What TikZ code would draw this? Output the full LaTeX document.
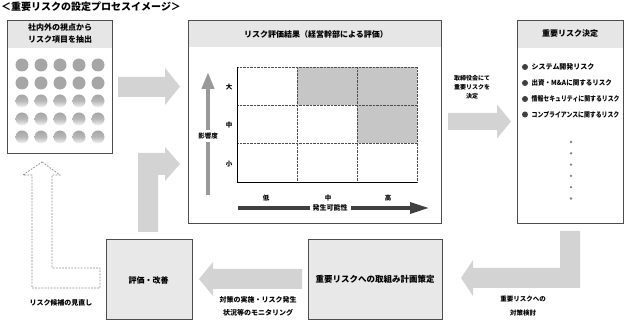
\documentclass[tikz,border=0pt]{standalone}
\usepackage{fontspec}
\setmainfont{Noto Sans CJK JP}
\usetikzlibrary{arrows.meta}
\definecolor{boxline}{HTML}{4D4D4D}
\definecolor{headfill}{HTML}{E6E6E6}
\definecolor{arrowfill}{HTML}{D3D3D3}
\definecolor{cellfill}{HTML}{C6C6C6}
\definecolor{dotfill}{HTML}{A6A6A6}
\definecolor{lowfill}{HTML}{E8E8E8}
\definecolor{vaxis}{HTML}{999999}
\definecolor{haxis}{HTML}{404040}
\definecolor{dashline}{HTML}{8C8C8C}
\tikzset{
  panel/.style={draw=boxline, line width=0.8pt, inner sep=0pt, outer sep=0pt, anchor=north west},
  lowbox/.style={panel, fill=lowfill},
  bigarrow/.style={fill=arrowfill},
  headtxt/.style={inner sep=0pt, font=\fontsize{8}{12}\selectfont\bfseries, align=center},
  smalltxt/.style={inner sep=0pt, font=\fontsize{7}{13}\selectfont\bfseries, align=center},
  tinytxt/.style={inner sep=0pt, font=\fontsize{6}{9}\selectfont\bfseries, align=center},
  itemtxt/.style={inner sep=0pt, anchor=west, font=\fontsize{7}{8}\selectfont\bfseries},
  axistxt/.style={inner sep=0pt, font=\fontsize{6.5}{8}\selectfont\bfseries},
  gridline/.style={draw=boxline, line width=0.6pt, dash pattern=on 0.7pt off 0.7pt},
  axisline/.style={draw=black, line width=0.8pt},
  riskdot/.style={fill=dotfill},
  bullet/.style={fill=haxis},
  moredot/.style={fill=gray},
}
\begin{document}
\begin{tikzpicture}[x=1pt,y=-1pt]
\useasboundingbox (0,0) rectangle (624,320);

% title
\node[inner sep=0pt, anchor=west, font=\fontsize{10}{12}\selectfont\bfseries] (title) at (1,6.5) {＜重要リスクの設定プロセスイメージ＞};

% header fills
\fill[headfill] (7,20) rectangle (112,48);
\fill[headfill] (188,20) rectangle (441,47);
\fill[headfill] (517,20) rectangle (623,48);

% panels
\node[panel, minimum width=105pt, minimum height=133pt] (b1) at (7,20) {};
\node[panel, minimum width=253pt, minimum height=203pt] (b2) at (188,20) {};
\node[panel, minimum width=106pt, minimum height=203pt] (b3) at (517,20) {};
\node[lowbox, minimum width=134pt, minimum height=80pt] (b4) at (308,239) {};
\node[lowbox, minimum width=86pt, minimum height=80pt] (b5) at (106,239) {};

% headers
\node[headtxt] (h1) at (60,33.5) {社内外の視点から\\リスク項目を抽出};
\node[headtxt] (h2) at (316,34) {リスク評価結果（経営幹部による評価）};
\node[headtxt] (h3) at (570,33.5) {重要リスク決定};
\node[headtxt, font=\fontsize{8.5}{10}\selectfont\bfseries] (t4) at (b4.center) {重要リスクへの取組み計画策定};
\node[headtxt] (t5) at (148.5,280) {評価・改善};

% risk dots
\foreach \cx in {22,41,60,79,98}{
  \foreach \cy in {65,83}{
    \fill[riskdot] (\cx,\cy) circle (6.5);
  }
  \foreach \cy in {101,119,137}{
    \shade[top color=dotfill, bottom color=white!92!dotfill, middle color=dotfill!80!white] (\cx,\cy) circle (6.5);
  }
}

% risk matrix
\fill[cellfill] (297,67) rectangle (417,105);
\fill[cellfill] (357,105) rectangle (417,143);
\draw[gridline] (237,67) -- (417,67);
\draw[gridline] (237,105) -- (417,105);
\draw[gridline] (237,143) -- (417,143);
\draw[gridline] (297,67) -- (297,182);
\draw[gridline] (357,67) -- (357,182);
\draw[gridline] (417,67) -- (417,182);
\draw[axisline] (237,67) -- (237,182) -- (417,182);
\node[axistxt] (r1) at (229,87) {大};
\node[axistxt] (r2) at (229,125) {中};
\node[axistxt] (r3) at (229,164) {小};
\node[axistxt] (c1) at (266,198) {低};
\node[axistxt] (c2) at (328,198) {中};
\node[axistxt] (c3) at (388,198) {高};

% impact axis
\coordinate (vbot) at (208,195);
\coordinate (vtop) at (208,72);
\draw[vaxis, line width=4pt, -{Triangle[length=17pt, width=12pt]}] (vbot) -- (vtop);
\node[axistxt, fill=white, inner ysep=3pt, inner xsep=0pt] (vlab) at (208,136) {影響度};

% likelihood axis
\coordinate (hl) at (238,208);
\coordinate (hr) at (429,208);
\draw[haxis, line width=3.5pt, -{Triangle[length=19pt, width=11pt]}] (hl) -- (hr);
\node[axistxt, fill=white, inner xsep=3pt, inner ysep=1pt, font=\fontsize{7}{8}\selectfont\bfseries] (hlab) at (330,208) {発生可能性};

% important risks
\foreach \yy/\txt/\sc in {67/システム開発リスク/1, 83/出資・M\&Aに関するリスク/0.93, 99/情報セキュリティに関するリスク/0.84, 114.5/コンプライアンスに関するリスク/0.84}{
  \fill[bullet] (525,\yy) circle (3);
  \node[itemtxt] at (531.5,\yy) {\scalebox{\sc}[1]{\txt}};
}
\foreach \yy in {142,153.3,164.6,175.9,187.2,198.5}{
  \fill[moredot] (571,\yy) circle (1.3);
}

% block arrows
\fill[bigarrow] (118,77) -- (165,77) -- (165,68) -- (180,86.5) -- (165,105) -- (165,97) -- (118,97) -- cycle;
\fill[bigarrow] (448,113) -- (497,113) -- (497,104.5) -- (511,121.5) -- (497,138.5) -- (497,130) -- (448,130) -- cycle;
\fill[bigarrow] (560,231) -- (580,231) -- (580,288) -- (473,288) -- (473,296) -- (461,278) -- (473,260) -- (473,268) -- (560,268) -- cycle;
\fill[bigarrow] (302,269) -- (213,269) -- (213,262) -- (199,279) -- (213,296) -- (213,289) -- (302,289) -- cycle;
\fill[bigarrow] (138,232) -- (138,153) -- (165,153) -- (165,147) -- (180,164) -- (165,181) -- (165,175) -- (158,175) -- (158,232) -- cycle;
\draw[dashline, line width=0.7pt, dash pattern=on 1.8pt off 1.3pt] (42,162) -- (60,175) -- (52,175) -- (52,268) -- (100,268) -- (100,288) -- (32,288) -- (32,175) -- (23,175) -- cycle;

% labels
\node[tinytxt] (l1) at (472,87) {取締役会にて\\重要リスクを\\決定};
\node[smalltxt] (l2) at (61,303) {リスク候補の見直し};
\node[smalltxt] (l3) at (258,306.5) {対策の実施・リスク発生\\状況等のモニタリング};
\node[smalltxt, font=\fontsize{6.5}{14}\selectfont\bfseries] (l4) at (523,306) {重要リスクへの\\対策検討};
\end{tikzpicture}
\end{document}
